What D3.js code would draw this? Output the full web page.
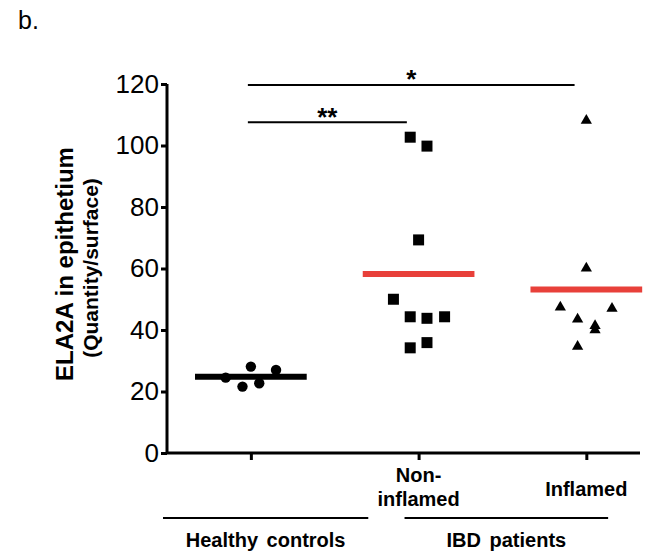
<!DOCTYPE html>
<html lang="en">
  <head>
    <meta charset="UTF-8" />
    <title>ELA2A in epithetium</title>
    <style type="text/css">
      body {
        margin: 0;
        background: #fff;
      }
      text {
        font-family: 'Liberation Sans', Arial, sans-serif;
      }
    </style>
    <script src="https://d3js.org/d3.v7.min.js"></script>
  </head>
  <body>
    <div class="d3Chart"></div>
    <script type="text/javascript">
      // categories (x positions are category index, jitter in category units)
      var groups = ['Healthy', 'Non-inflamed', 'Inflamed']
      var healthyValues = [24.5, 28.1, 21.6, 22.7, 27.0]
      var healthyJitter = [-0.15, 0, -0.05, 0.05, 0.15]
      var nonInflamedValues = [102.7, 99.8, 69.3, 50.0, 44.3, 43.8, 44.3, 34.2, 35.9]
      var nonInflamedJitter = [-0.05, 0.05, 0, -0.15, -0.05, 0.05, 0.155, -0.05, 0.05]
      var inflamedValues = [108.1, 60.1, 47.4, 47.0, 43.5, 41.4, 40.0, 34.6]
      var inflamedJitter = [0, 0, -0.155, 0.153, -0.052, 0.052, 0.052, -0.052]
      // mean lines
      var meanValues = [24.8, 58.2, 53.2]
      var yTicks = [0, 20, 40, 60, 80, 100, 120]
      // significance bars: from group, to group, level, label
      var comparisons = [
        { from: 0, to: 1.93, level: 119.7, label: '*' },
        { from: 0, to: 0.93, level: 107.6, label: '**' }
      ]

      var width = 655
      var height = 552
      var red = '#e8403a'

      var svg = d3
        .select('.d3Chart')
        .append('svg')
        .attr('width', width)
        .attr('height', height)
        .style('background-color', '#fff')

      // 比例尺
      var x = d3.scaleLinear().domain([-0.5, 2.32]).range([167, 640])
      var y = d3.scaleLinear().domain([0, 120]).range([453, 84])

      svg.append('text').attr('x', 18).attr('y', 29).attr('font-size', 25).text('b.')

      // y axis
      var yAxis = svg
        .append('g')
        .attr('transform', 'translate(' + x(-0.5) + ',0)')
        .call(d3.axisLeft(y).tickValues(yTicks).tickSize(6).tickPadding(2))
      yAxis.select('.domain').attr('d', 'M0,' + y(120) + 'V' + y(0)).attr('stroke', '#000').attr('stroke-width', 3)
      yAxis.selectAll('.tick line').attr('stroke', '#000').attr('stroke-width', 3)
      yAxis.selectAll('.tick text').attr('font-size', 26).attr('fill', '#000').style('font-family', "'Liberation Sans', Arial")

      // x axis
      var xAxis = svg
        .append('g')
        .attr('transform', 'translate(0,' + y(0) + ')')
        .call(d3.axisBottom(x).tickValues([0, 1, 2]).tickSize(7).tickFormat(''))
      xAxis.select('.domain').attr('d', 'M' + x(-0.5) + ',0H' + x(2.32)).attr('stroke', '#000').attr('stroke-width', 3)
      xAxis.selectAll('.tick line').attr('stroke', '#000').attr('stroke-width', 3)

      // category labels
      var catLabels = svg.append('g').attr('font-weight', 'bold').attr('font-size', 20).attr('text-anchor', 'middle')
      catLabels.append('text').attr('x', x(1)).attr('y', 482).text('Non-')
      catLabels.append('text').attr('x', x(1)).attr('y', 506).text('inflamed')
      catLabels.append('text').attr('x', x(2)).attr('y', 496).text('Inflamed')

      // group brackets
      var bottomGroups = [
        { label: 'Healthy controls', from: -0.5, to: 0.7 },
        { label: 'IBD patients', from: 0.94, to: 2.13 }
      ]
      bottomGroups.forEach(function (g) {
        svg
          .append('line')
          .attr('x1', x(g.from) - 4)
          .attr('x2', x(g.to))
          .attr('y1', 518)
          .attr('y2', 518)
          .attr('stroke', '#000')
          .attr('stroke-width', 2)
        svg
          .append('text')
          .attr('x', (x(g.from) - 4 + x(g.to)) / 2)
          .attr('y', 547)
          .attr('text-anchor', 'middle')
          .attr('font-weight', 'bold')
          .attr('font-size', 20)
          .attr('word-spacing', 3)
          .text(g.label)
      })

      // y label
      var yLab = svg.append('g').attr('text-anchor', 'middle').attr('font-weight', 'bold')
      yLab
        .append('text')
        .attr('transform', 'translate(73,264) rotate(-90)')
        .attr('font-size', 24)
        .text('ELA2A in epithetium')
      yLab
        .append('text')
        .attr('transform', 'translate(98,268) rotate(-90)')
        .attr('font-size', 21)
        .text('(Quantity/surface)')

      // points
      var series = [
        { values: healthyValues, jitter: healthyJitter, symbol: d3.symbolCircle, size: 85 },
        { values: nonInflamedValues, jitter: nonInflamedJitter, symbol: d3.symbolSquare, size: 121 },
        { values: inflamedValues, jitter: inflamedJitter, symbol: d3.symbolTriangle, size: 55 }
      ]

      // mean lines
      svg
        .selectAll('.mean')
        .data(meanValues)
        .enter()
        .append('line')
        .attr('class', 'mean')
        .attr('x1', (d, i) => x(i - 0.333))
        .attr('x2', (d, i) => x(i + 0.333))
        .attr('y1', (d) => y(d))
        .attr('y2', (d) => y(d))
        .attr('stroke', (d, i) => (i === 0 ? '#000' : red))
        .attr('stroke-width', 6)

      series.forEach(function (s, gi) {
        svg
          .append('g')
          .selectAll('path')
          .data(s.values)
          .enter()
          .append('path')
          .attr('d', d3.symbol().type(s.symbol).size(s.size))
          .attr('transform', (d, i) => 'translate(' + x(gi + s.jitter[i]) + ',' + y(d) + ')')
          .attr('fill', '#000')
      })

      // significance
      comparisons.forEach(function (c) {
        svg
          .append('line')
          .attr('x1', x(c.from) - 3)
          .attr('x2', x(c.to))
          .attr('y1', y(c.level))
          .attr('y2', y(c.level))
          .attr('stroke', '#000')
          .attr('stroke-width', 2)
        svg
          .append('text')
          .attr('x', (x(c.from) - 3 + x(c.to)) / 2)
          .attr('y', y(c.level) + 3.5)
          .attr('text-anchor', 'middle')
          .attr('font-weight', 'bold')
          .attr('font-size', 26)
          .text(c.label)
      })
    </script>
  </body>
</html>
